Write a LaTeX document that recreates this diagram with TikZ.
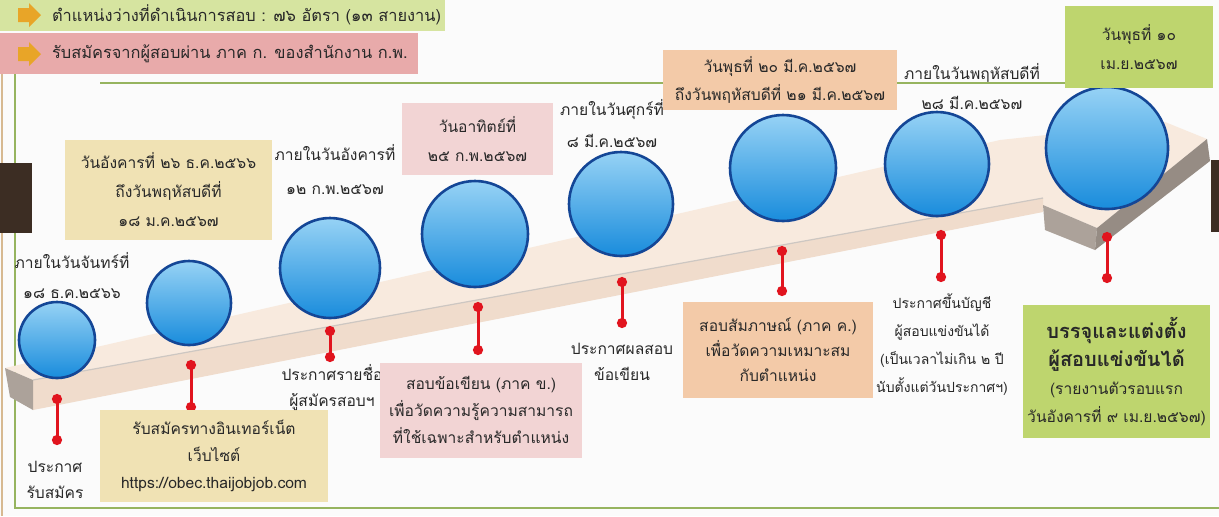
\documentclass[tikz,border=0pt]{standalone}
\usepackage{fontspec}
\newfontfamily\thaifont[Script=Thai]{Loma}
\usepackage{tikz}
\usetikzlibrary{positioning, arrows.meta}

\definecolor{headgreen}{RGB}{214,228,160}
\definecolor{headpink}{RGB}{232,170,170}
\definecolor{tanbox}{RGB}{240,226,180}
\definecolor{pinkbox}{RGB}{242,212,212}
\definecolor{peachbox}{RGB}{243,202,168}
\definecolor{greenbox}{RGB}{190,213,110}
\definecolor{framegreen}{RGB}{150,180,95}
\definecolor{frametan}{RGB}{215,185,145}
\definecolor{stubbrown}{RGB}{60,45,35}
\definecolor{beamtop}{RGB}{248,234,222}
\definecolor{beamfront}{RGB}{240,220,204}
\definecolor{beamgray}{RGB}{172,162,154}
\definecolor{beamdark}{RGB}{150,140,132}
\definecolor{balltop}{RGB}{150,210,245}
\definecolor{ballbot}{RGB}{25,140,220}
\definecolor{balledge}{RGB}{20,70,150}
\definecolor{pinred}{RGB}{225,20,30}
\definecolor{arrowgold}{RGB}{232,165,40}
\definecolor{txtgray}{RGB}{40,40,40}

\tikzset{
    every node/.style={font=\thaifont\fontsize{7.8}{14}\selectfont, text=txtgray}, % Thai text everywhere
    lsp/.style={font=\thaifont\fontsize{7.8}{#1}\selectfont}, % line spacing of a label
    datebox/.style={rectangle, align=center, inner sep=0pt}, % coloured boxes with dates and steps
    freetext/.style={align=center, inner sep=0pt}, % labels with no box
    sphere/.style={circle, draw=balledge, line width=1.3pt, top color=balltop, bottom color=ballbot, inner sep=0pt}, % the blue balls
    post/.style={draw=pinred, line width=1.5pt, {Circle[length=5pt]}-{Circle[length=5pt]}}, % red posts with a dot at each end
}

\begin{document}
\begin{tikzpicture}[x=0.5pt, y=-0.5pt]
    \useasboundingbox (0,0) rectangle (1219,516);
    \fill[white!97!gray] (0,0) rectangle (1219,516);

    % frame
    \draw[frametan, line width=1pt] (2,74) -- (2,516);
    \draw[framegreen, line width=1pt] (15,74) -- (15,508) -- (1219,508);
    \draw[framegreen, line width=1pt] (100,83) -- (1145,83);
    \fill[stubbrown] (0,163) rectangle (32,233);
    \fill[stubbrown] (1211,160) rectangle (1219,232);

    % headers
    \fill[headgreen] (0,0) rectangle (445,31);
    \fill[headpink] (0,33) rectangle (418,74);
    \fill[arrowgold] (18,8) -- (29,8) -- (29,3) -- (41,15) -- (29,27) -- (29,22) -- (18,22) -- cycle;
    \fill[arrowgold] (18,47) -- (29,47) -- (29,42) -- (41,54) -- (29,66) -- (29,61) -- (18,61) -- cycle;
    \node[anchor=west, font=\thaifont\fontsize{8.2}{11}\selectfont] (h1) at (45,15) {ตำแหน่งว่างที่ดำเนินการสอบ : ๗๖ อัตรา (๑๓ สายงาน)};
    \node[anchor=west, font=\thaifont\fontsize{8.2}{11}\selectfont] (h2) at (45,54) {รับสมัครจากผู้สอบผ่าน ภาค ก. ของสำนักงาน ก.พ.};

    % beam
    \fill[beamtop] (5,368) -- (1000,140) -- (1165,122) -- (1207,139) -- (1097,228) -- (1043,205) -- (1043,198) -- (33,380) -- cycle;
    \fill[beamfront] (33,380) -- (1043,198) -- (1043,212) -- (33,410) -- cycle;
    \draw[beamgray!60, line width=0.6pt] (33,380) -- (1043,198);
    \fill[beamgray] (5,368) -- (33,380) -- (33,410) -- (10,397) -- cycle;
    \fill[beamgray] (1043,205) -- (1097,228) -- (1095,250) -- (1045,230) -- cycle;
    \fill[beamdark] (1097,228) -- (1207,139) -- (1210,161) -- (1095,250) -- cycle;

    % spheres
    \node[sphere, minimum size=38pt] (s1) at (57,340) {};
    \node[sphere, minimum size=42pt] (s2) at (189,303) {};
    \node[sphere, minimum size=50pt] (s3) at (330,268) {};
    \node[sphere, minimum size=53pt] (s4) at (475,234) {};
    \node[sphere, minimum size=52pt] (s5) at (621,204) {};
    \node[sphere, minimum size=53pt] (s6) at (783,168) {};
    \node[sphere, minimum size=52pt] (s7) at (937,164) {};
    \node[sphere, minimum size=61pt] (s8) at (1107,148) {};

    % posts
    \coordinate (p1t) at (57,394);   \coordinate (p1b) at (57,445);
    \coordinate (p2t) at (191,360);  \coordinate (p2b) at (191,412);
    \coordinate (p3t) at (330,326);  \coordinate (p3b) at (330,362);
    \coordinate (p4t) at (478,302);  \coordinate (p4b) at (478,355);
    \coordinate (p5t) at (622,277);  \coordinate (p5b) at (622,328);
    \coordinate (p6t) at (782,246);  \coordinate (p6b) at (782,296);
    \coordinate (p7t) at (941,230);  \coordinate (p7b) at (941,282);
    \coordinate (p8t) at (1107,232); \coordinate (p8b) at (1107,283);
    \draw[post] (p1t) -- (p1b);
    \draw[post] (p2t) -- (p2b);
    \draw[post] (p3t) -- (p3b);
    \draw[post] (p4t) -- (p4b);
    \draw[post] (p5t) -- (p5b);
    \draw[post] (p6t) -- (p6b);
    \draw[post] (p7t) -- (p7b);
    \draw[post] (p8t) -- (p8b);

    % dates above
    \node[freetext, lsp=15] (d1) at (72,276) {ภายในวันจันทร์ที่\\๑๘ ธ.ค.๒๕๖๖};
    \node[datebox, lsp=14.5, fill=tanbox, minimum width=103.5pt, minimum height=50pt] (d2) at (168.5,190) {วันอังคารที่ ๒๖ ธ.ค.๒๕๖๖\\ถึงวันพฤหัสบดีที่\\๑๘ ม.ค.๒๕๖๗};
    \node[freetext, lsp=17] (d3) at (335,170) {ภายในวันอังคารที่\\๑๒ ก.พ.๒๕๖๗};
    \node[datebox, lsp=14.5, fill=pinkbox, minimum width=75.5pt, minimum height=36pt] (d4) at (477.5,139) {วันอาทิตย์ที่\\๒๕ ก.พ.๒๕๖๗};
    \node[freetext, lsp=16] (d5) at (612,124) {ภายในวันศุกร์ที่\\๘ มี.ค.๒๕๖๗};
    \node[datebox, lsp=14, fill=peachbox, minimum width=117pt, minimum height=30pt] (d6) at (780,80) {วันพุธที่ ๒๐ มี.ค.๒๕๖๗\\ถึงวันพฤหัสบดีที่ ๒๑ มี.ค.๒๕๖๗};
    \node[datebox, lsp=14.5, fill=greenbox, minimum width=74pt, minimum height=41pt] (d8) at (1139,47) {วันพุธที่ ๑๐\\เม.ย.๒๕๖๗};
    \node[freetext, lsp=15] (d7) at (972,87) {ภายในวันพฤหัสบดีที่\\๒๘ มี.ค.๒๕๖๗};

    % steps below
    \node[freetext, lsp=13] (e1) at (55,480) {ประกาศ\\รับสมัคร};
    \node[datebox, lsp=13.5, fill=tanbox, minimum width=114pt, minimum height=46pt] (e2) at (214,456) {รับสมัครทางอินเทอร์เน็ต\\เว็บไซต์\\https://obec.thaijobjob.com};
    \node[freetext, lsp=13] (e3) at (332,387) {ประกาศรายชื่อ\\ผู้สมัครสอบฯ};
    \node[datebox, lsp=13.5, fill=pinkbox, minimum width=101pt, minimum height=47.5pt] (e4) at (481,410) {สอบข้อเขียน (ภาค ข.)\\เพื่อวัดความรู้ความสามารถ\\ที่ใช้เฉพาะสำหรับตำแหน่ง};
    \node[freetext, lsp=13] (e5) at (622,362) {ประกาศผลสอบ\\ข้อเขียน};
    \node[datebox, lsp=12.5, fill=peachbox, minimum width=95pt, minimum height=48pt] (e6) at (778,350) {สอบสัมภาษณ์ (ภาค ค.)\\เพื่อวัดความเหมาะสม\\กับตำแหน่ง};
    \node[freetext, font=\thaifont\fontsize{7}{14}\selectfont] (e7) at (942,345) {ประกาศขึ้นบัญชี\\ผู้สอบแข่งขันได้\\(เป็นเวลาไม่เกิน ๒ ปี\\นับตั้งแต่วันประกาศฯ)};
    \node[datebox, lsp=14, fill=greenbox, minimum width=93.5pt, minimum height=66.5pt] (e8) at (1116.5,371.5) {{\fontsize{10}{14}\selectfont\bfseries บรรจุและแต่งตั้ง}\\{\fontsize{10}{14}\selectfont\bfseries ผู้สอบแข่งขันได้}\\(รายงานตัวรอบแรก\\วันอังคารที่ ๙ เม.ย.๒๕๖๗)};
\end{tikzpicture}
\end{document}
